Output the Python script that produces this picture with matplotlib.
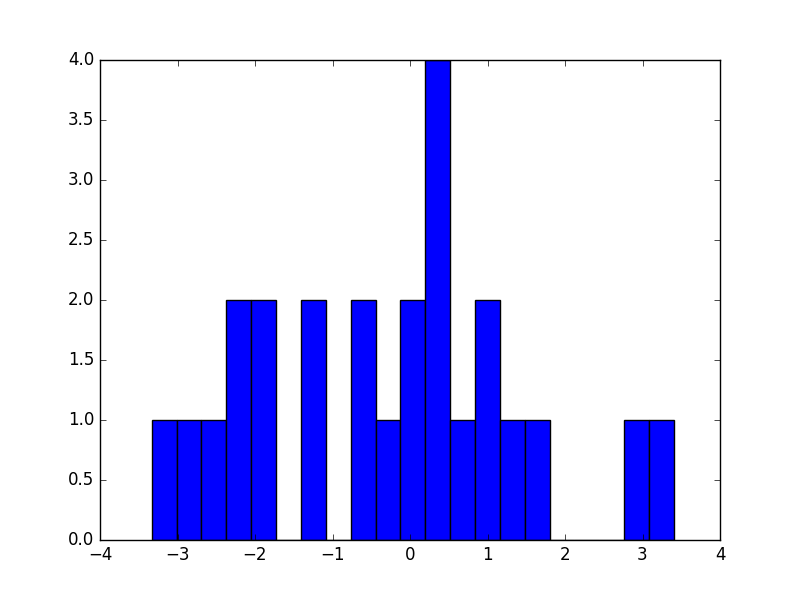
import numpy as np
import matplotlib
matplotlib.use('Agg')
import matplotlib.pyplot as plt

plt.style.use('classic')

BIN_LEFT = -3.333
BIN_RIGHT = 3.406
N_BINS = 21
COUNTS = [1, 1, 1, 2, 2, 0, 2, 0, 2, 1, 2, 4, 1, 2, 1, 1, 0, 0, 0, 1, 1]

edges = np.linspace(BIN_LEFT, BIN_RIGHT, N_BINS + 1)

fig, ax = plt.subplots(figsize=(8, 6), dpi=100)
ax.hist(edges[:-1], bins=edges, weights=COUNTS, color='b', edgecolor='k')
ax.set_xlim(-4, 4)
ax.set_ylim(0, 4)

plt.savefig('out.png', dpi=100, facecolor='white')
